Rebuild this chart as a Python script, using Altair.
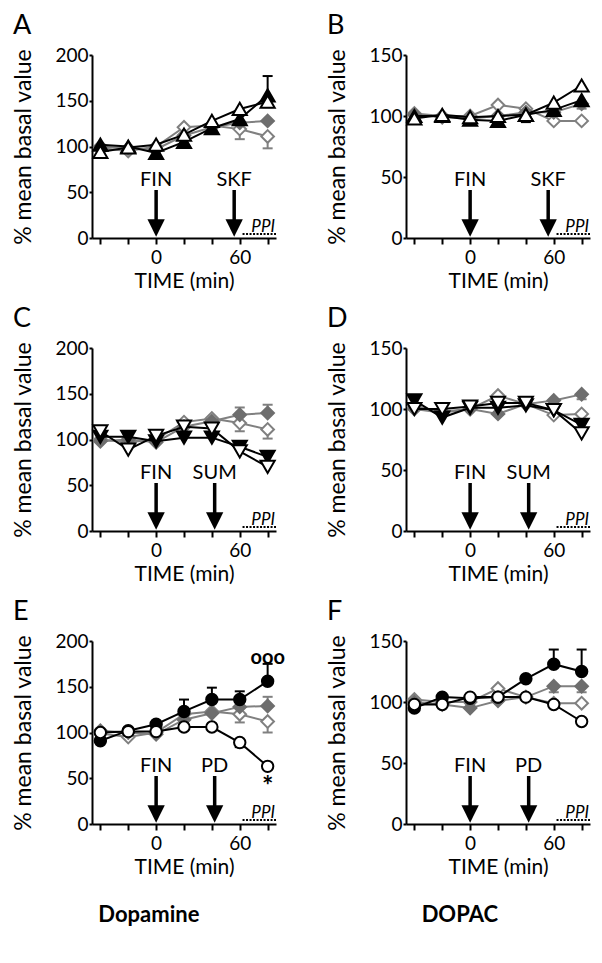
import altair as alt
import pandas as pd

# ---------------- data ----------------
TIME = [-40, -20, 0, 20, 40, 60, 80]
X_TICKS = [-40, -20, 0, 20, 40, 60, 80]
X_DOMAIN = [-46, 86]
DA_TICKS = [0, 50, 100, 150, 200]
DOPAC_TICKS = [0, 50, 100, 150]

# Panel A  (Dopamine, FIN + SKF)
A_CTRL_OPEN = [98, 95, 100, 121, 123, 119, 111]
A_CTRL_FILL = [100, 98, 97, 112, 121, 126, 128]
A_TEST_FILL = [102, 100, 93, 105, 120, 130, 156]
A_TEST_OPEN = [94, 99, 102, 113, 128, 141, 149]
A_ERR = [("ctrl_open", 60, 108), ("ctrl_open", 80, 98), ("test_open", 80, 143), ("test_fill", 80, 177)]

# Panel B  (DOPAC, FIN + SKF)
B_CTRL_OPEN = [102, 100, 100, 109, 106, 96, 96]
B_CTRL_FILL = [101, 99, 98, 100, 103, 103, 110]
B_TEST_FILL = [100, 100, 97, 96, 101, 105, 113]
B_TEST_OPEN = [98, 101, 99, 100, 101, 111, 125]
B_ERR = [("ctrl_fill", 80, 106), ("test_fill", 60, 101), ("test_open", 40, 95)]

# Panel C  (Dopamine, FIN + SUM)
C_CTRL_OPEN = [100, 97, 100, 119, 123, 118, 111]
C_CTRL_FILL = [98, 100, 97, 114, 120, 127, 129]
C_TEST_FILL = [103, 103, 98, 102, 102, 92, 81]
C_TEST_OPEN = [109, 89, 104, 114, 112, 87, 70]
C_ERR = [("ctrl_fill", 60, 135), ("ctrl_fill", 80, 138), ("ctrl_open", 60, 109), ("ctrl_open", 80, 101)]

# Panel D  (DOPAC, FIN + SUM)
D_CTRL_OPEN = [102, 98, 100, 111, 104, 95, 96]
D_CTRL_FILL = [100, 97, 100, 96, 104, 107, 112]
D_TEST_FILL = [107, 93, 101, 101, 103, 99, 87]
D_TEST_OPEN = [100, 100, 102, 105, 105, 99, 80]
D_ERR = [("ctrl_fill", 80, 108)]

# Panel E  (Dopamine, FIN + PD)
E_CTRL_OPEN = [99, 95, 100, 120, 123, 120, 112]
E_CTRL_FILL = [102, 100, 98, 114, 121, 128, 129]
E_TEST_FILL = [91, 102, 109, 123, 136, 136, 156]
E_TEST_OPEN = [100, 101, 101, 106, 106, 89, 63]
E_ERR = [("ctrl_fill", 80, 139), ("ctrl_open", 60, 111), ("ctrl_open", 80, 100),
         ("test_fill", 20, 136), ("test_fill", 40, 149), ("test_fill", 60, 145),
         ("test_fill", 80, 175), ("test_open", 60, 84)]

# Panel F  (DOPAC, FIN + PD)
F_CTRL_OPEN = [102, 100, 100, 111, 104, 99, 99]
F_CTRL_FILL = [100, 98, 95, 101, 104, 113, 113]
F_TEST_FILL = [95, 104, 103, 104, 119, 131, 125]
F_TEST_OPEN = [98, 98, 104, 104, 104, 98, 84]
F_ERR = [("ctrl_fill", 60, 108), ("ctrl_fill", 80, 108), ("test_fill", 60, 143), ("test_fill", 80, 143)]

# annotations (data coordinates)
FIN_TIME = 0
SKF_TIME = 56
SUM_TIME = 42
PD_TIME = 42
PPI_START = 62
PPI_END = 86
E_MARKS = [("ooo", 80, 181, 20), ("*", 80, 40, 27)]

# ---------------- styling ----------------
BLACK = "#000000"
GRAY_LINE = "#808080"
GRAY_FILL = "#6e6e6e"
FONT = "Lato"
ARROW_HEAD = "M-1,-1L1,-1L0,1Z"
ORDER = ["ctrl_open", "ctrl_fill", "test_fill", "test_open"]


def style(key, shape):
    if key == "ctrl_open":
        return dict(shape="diamond", stroke=GRAY_LINE, fill="white", line=GRAY_LINE, size=160)
    if key == "ctrl_fill":
        return dict(shape="diamond", stroke=GRAY_FILL, fill=GRAY_FILL, line=GRAY_LINE, size=160)
    size = 130 if shape == "circle" else 200
    if key == "test_fill":
        return dict(shape=shape, stroke=BLACK, fill=BLACK, line=BLACK, size=size)
    return dict(shape=shape, stroke=BLACK, fill="white", line=BLACK, size=size)


def make_panel(letter, ymax, yticks, series, shape, drug, drug_t, errs, marks=()):
    x = alt.X(
        "t:Q",
        scale=alt.Scale(domain=X_DOMAIN, nice=False, zero=False),
        axis=alt.Axis(
            values=X_TICKS,
            labelExpr="datum.value == 0 || datum.value == 60 ? datum.label : ''",
            title="TIME (min)",
            tickSize=6,
            labelPadding=4,
            titlePadding=3,
        ),
    )
    y = alt.Y(
        "v:Q",
        scale=alt.Scale(domain=[0, ymax], nice=False),
        axis=alt.Axis(
            values=yticks,
            title="% mean basal value",
            tickSize=3,
            labelPadding=1,
            titlePadding=19,
            titleFontSize=23,
        ),
    )
    layers = []
    for key in ORDER:
        vals = series[key]
        st = style(key, shape)
        df = pd.DataFrame({"t": TIME, "v": vals})
        layers.append(
            alt.Chart(df).mark_line(color=st["line"], strokeWidth=2).encode(x=x, y=y)
        )
        e = [(t, b) for (k, t, b) in errs if k == key]
        if e:
            edf = pd.DataFrame({
                "t": [t for t, _ in e],
                "v": [vals[TIME.index(t)] for t, _ in e],
                "v2": [b for _, b in e],
            })
            cdf = pd.DataFrame({
                "t": [t for t, _ in e],
                "t2": [t for t, _ in e],
                "v": [b for _, b in e],
            })
            layers.append(
                alt.Chart(edf).mark_rule(color=st["line"], strokeWidth=2).encode(
                    x=x, y=y, y2=alt.Y2("v2")
                )
            )
            layers.append(
                alt.Chart(cdf).mark_rule(color=st["line"], strokeWidth=2, xOffset=-5, x2Offset=5).encode(
                    x=x, x2=alt.X2("t2"), y=y
                )
            )
        layers.append(
            alt.Chart(df).mark_point(
                shape=st["shape"], filled=True, fill=st["fill"], stroke=st["stroke"],
                strokeWidth=2, size=st["size"], opacity=1, fillOpacity=1,
            ).encode(x=x, y=y)
        )

    adf = pd.DataFrame({"t": [FIN_TIME, drug_t], "v": [0, 0], "v2": [0, 0], "label": ["FIN", drug]})
    layers.append(
        alt.Chart(adf).mark_rule(color=BLACK, strokeWidth=3.5, yOffset=-16, y2Offset=-48).encode(
            x=x, y=y, y2=alt.Y2("v2")
        )
    )
    layers.append(
        alt.Chart(adf).mark_point(shape=ARROW_HEAD, size=300, filled=True, color=BLACK,
                                  opacity=1, yOffset=-10).encode(x=x, y=y)
    )
    layers.append(
        alt.Chart(adf).mark_text(dy=-58, fontSize=20, font=FONT, color=BLACK).encode(
            x=x, y=y, text="label:N"
        )
    )
    pdf = pd.DataFrame({"t": [PPI_START], "t2": [PPI_END], "v": [0], "label": ["PPI"]})
    layers.append(
        alt.Chart(pdf).mark_rule(color=BLACK, strokeWidth=2, strokeDash=[2, 1.5], yOffset=-4).encode(
            x=x, x2=alt.X2("t2"), y=y
        )
    )
    pdf2 = pd.DataFrame({"t": [PPI_END], "v": [0], "label": ["PPI"]})
    layers.append(
        alt.Chart(pdf2).mark_text(align="right", baseline="alphabetic", dx=-1, dy=-6, fontSize=17,
                                  fontStyle="italic", font=FONT, color=BLACK).encode(
            x=x, y=y, text="label:N"
        )
    )
    for txt, t, v, fs in marks:
        mdf = pd.DataFrame({"t": [t], "v": [v], "label": [txt]})
        layers.append(
            alt.Chart(mdf).mark_text(fontSize=fs, fontWeight="bold", font=FONT, color=BLACK).encode(
                x=x, y=y, text="label:N"
            )
        )
    return alt.layer(*layers).properties(
        width=184,
        height=183,
        title=alt.TitleParams(letter, anchor="start", fontSize=27, fontWeight="normal",
                              font=FONT, color=BLACK, offset=6),
    )


def series(co, cf, tf, to):
    return {"ctrl_open": co, "ctrl_fill": cf, "test_fill": tf, "test_open": to}


pA = make_panel("A", 200, DA_TICKS, series(A_CTRL_OPEN, A_CTRL_FILL, A_TEST_FILL, A_TEST_OPEN),
                "triangle-up", "SKF", SKF_TIME, A_ERR)
pB = make_panel("B", 150, DOPAC_TICKS, series(B_CTRL_OPEN, B_CTRL_FILL, B_TEST_FILL, B_TEST_OPEN),
                "triangle-up", "SKF", SKF_TIME, B_ERR)
pC = make_panel("C", 200, DA_TICKS, series(C_CTRL_OPEN, C_CTRL_FILL, C_TEST_FILL, C_TEST_OPEN),
                "triangle-down", "SUM", SUM_TIME, C_ERR)
pD = make_panel("D", 150, DOPAC_TICKS, series(D_CTRL_OPEN, D_CTRL_FILL, D_TEST_FILL, D_TEST_OPEN),
                "triangle-down", "SUM", SUM_TIME, D_ERR)
pE = make_panel("E", 200, DA_TICKS, series(E_CTRL_OPEN, E_CTRL_FILL, E_TEST_FILL, E_TEST_OPEN),
                "circle", "PD", PD_TIME, E_ERR, E_MARKS)
pF = make_panel("F", 150, DOPAC_TICKS, series(F_CTRL_OPEN, F_CTRL_FILL, F_TEST_FILL, F_TEST_OPEN),
                "circle", "PD", PD_TIME, F_ERR)

left = alt.vconcat(pA, pC, pE, spacing=14,
                   title=alt.TitleParams("Dopamine", orient="bottom", anchor="middle", fontSize=22,
                                         fontWeight="bold", font=FONT, color=BLACK, offset=28))
right = alt.vconcat(pB, pD, pF, spacing=14,
                    title=alt.TitleParams("DOPAC", orient="bottom", anchor="middle", fontSize=22,
                                          fontWeight="bold", font=FONT, color=BLACK, offset=28))

chart = alt.hconcat(left, right, spacing=41).configure(
    font=FONT, padding={"left": 4, "top": 4, "right": 0, "bottom": 0}
).configure_view(stroke=None).configure_axis(
    grid=False, domainColor=BLACK, domainWidth=2, tickColor=BLACK, tickWidth=2,
    labelColor=BLACK, titleColor=BLACK, labelFont=FONT, titleFont=FONT,
    labelFontSize=19, titleFontSize=21, titleFontWeight="normal",
)

chart.save("out.html", embed_options={"renderer": "svg", "actions": False})
